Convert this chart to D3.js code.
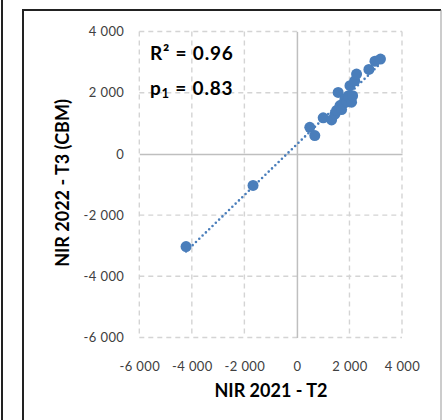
<!DOCTYPE html>
<html lang="en">
<head>
    <meta charset="UTF-8">
    <title>NIR 2021 vs NIR 2022 scatter</title>
    <script src="https://d3js.org/d3.v7.min.js"></script>
    <style>
        body { margin: 0; background: #fff; font-family: Lato, "Open Sans", sans-serif; }
    </style>
</head>
<body>
    <div id="chart"></div>

    <script>
        // NIR 2021 - T2 (x) against NIR 2022 - T3 (CBM) (y)
        const nir2021 = [-4220, -1670, 490, 680, 1000, 1320, 1450, 1510, 1570, 1640, 1700, 1760, 1830, 1900, 1960, 2020, 2080, 2120, 2200, 2270, 2740, 2970, 3180];
        const nir2022 = [-3030, -1030, 870, 600, 1180, 1110, 1300, 1420, 2010, 1580, 1450, 1640, 1800, 1700, 1900, 2230, 1690, 1900, 2390, 2610, 2760, 3030, 3100];
        const xTicks = [-6000, -4000, -2000, 0, 2000, 4000];
        const yTicks = [-6000, -4000, -2000, 0, 2000, 4000];
        const statLabels = ["R² = 0.96", "p₁ = 0.83"];

        const W = 442, H = 420;
        const svg = d3.select("#chart").append("svg")
            .attr("width", W)
            .attr("height", H);

        // outer frames
        svg.append("line").attr("x1", 2).attr("x2", 2).attr("y1", 0).attr("y2", H)
            .attr("stroke", "#222").attr("stroke-width", 2);
        svg.append("path")
            .attr("d", `M23,${H} V10 H441`)
            .attr("fill", "none").attr("stroke", "#222").attr("stroke-width", 2);
        svg.append("line").attr("x1", 441).attr("x2", 441).attr("y1", 10).attr("y2", H)
            .attr("stroke", "#999").attr("stroke-width", 1);

        const x = d3.scaleLinear().domain([-6000, 4000]).range([139.3, 402]);
        const y = d3.scaleLinear().domain([-6000, 4000]).range([337.5, 31.5]);
        // "4 000" style with a plain hyphen for negatives
        const fmt = v => (v < 0 ? "-" : "") + d3.format(",")(Math.abs(v)).replace(",", " ");

        // grid
        const grid = svg.append("g").attr("class", "grid");
        grid.selectAll("line.v")
            .data(xTicks.filter(d => d !== 0))
            .join("line")
            .attr("x1", d => x(d)).attr("x2", d => x(d))
            .attr("y1", y(4000)).attr("y2", y(-6000))
            .attr("stroke", "#d4d4d4").attr("stroke-width", 1.4)
            .attr("stroke-dasharray", "5,4");
        grid.selectAll("line.h")
            .data(yTicks.filter(d => d !== 0))
            .join("line")
            .attr("x1", x(-6000)).attr("x2", x(4000))
            .attr("y1", d => y(d)).attr("y2", d => y(d))
            .attr("stroke", "#d4d4d4").attr("stroke-width", 1.4)
            .attr("stroke-dasharray", "5,4");

        // zero axes
        svg.append("g")
            .attr("transform", `translate(0,${y(0)})`)
            .call(d3.axisBottom(x).tickValues([]).tickSizeOuter(0))
            .call(g => g.select(".domain").attr("stroke", "#bfbfbf").attr("stroke-width", 1.5));
        svg.append("g")
            .attr("transform", `translate(${x(0)},0)`)
            .call(d3.axisLeft(y).tickValues([]).tickSizeOuter(0))
            .call(g => g.select(".domain").attr("stroke", "#bfbfbf").attr("stroke-width", 1.5));

        // tick labels
        svg.append("g")
            .attr("transform", `translate(0,${y(-6000)})`)
            .call(d3.axisBottom(x).tickValues(xTicks).tickSize(0).tickPadding(24).tickFormat(fmt))
            .call(g => g.select(".domain").remove())
            .call(g => g.selectAll("text")
                .attr("font-family", "Lato, sans-serif")
                .attr("font-size", "13px")
                .attr("letter-spacing", "0.4px")
                .attr("fill", "#404040"));
        svg.append("g")
            .attr("transform", `translate(${x(-6000)},0)`)
            .call(d3.axisLeft(y).tickValues(yTicks).tickSize(0).tickPadding(15).tickFormat(fmt))
            .call(g => g.select(".domain").remove())
            .call(g => g.selectAll("text")
                .attr("font-family", "Lato, sans-serif")
                .attr("font-size", "13px")
                .attr("letter-spacing", "0.4px")
                .attr("fill", "#404040"));

        // trendline (least squares over data range)
        const mx = d3.mean(nir2021), my = d3.mean(nir2022);
        const slope = d3.sum(nir2021, (v, i) => (v - mx) * (nir2022[i] - my)) / d3.sum(nir2021, v => (v - mx) ** 2);
        const icpt = my - slope * mx;
        const xs = d3.extent(nir2021);
        svg.append("path")
            .datum(xs)
            .attr("d", d3.line().x(d => x(d)).y(d => y(icpt + slope * d)))
            .attr("stroke", "#4a7ebb").attr("stroke-width", 2.6)
            .attr("stroke-linecap", "round")
            .attr("stroke-dasharray", "0,4.6")
            .attr("fill", "none");

        // points
        svg.append("g").selectAll("circle")
            .data(nir2021.map((v, i) => [v, nir2022[i]]))
            .join("circle")
            .attr("cx", d => x(d[0]))
            .attr("cy", d => y(d[1]))
            .attr("r", 5.5)
            .attr("fill", "#4a7ebb");

        // stat labels
        const st = svg.append("g")
            .attr("font-family", "Lato, sans-serif")
            .attr("font-weight", "bold")
            .attr("font-size", "19px")
            .attr("letter-spacing", "0.8px")
            .attr("fill", "#000");
        st.append("text").attr("x", 150).attr("y", 60).text(statLabels[0]);
        const p = st.append("text").attr("x", 150).attr("y", 95);
        p.append("tspan").text("p");
        p.append("tspan").attr("font-size", "13px").attr("dy", 3).text("1");
        p.append("tspan").attr("dy", -3).text(" = 0.83");

        // axis titles
        svg.append("text")
            .attr("x", 271).attr("y", 397)
            .attr("text-anchor", "middle")
            .attr("font-family", "Lato, sans-serif")
            .attr("font-weight", "bold")
            .attr("font-size", "18px")
            .attr("fill", "#000")
            .text("NIR 2021 - T2");
        svg.append("text")
            .attr("transform", "translate(69,183) rotate(-90)")
            .attr("text-anchor", "middle")
            .attr("font-family", "Lato, sans-serif")
            .attr("font-weight", "bold")
            .attr("font-size", "18px")
            .attr("fill", "#000")
            .text("NIR 2022 - T3 (CBM)");
    </script>
</body>
</html>
